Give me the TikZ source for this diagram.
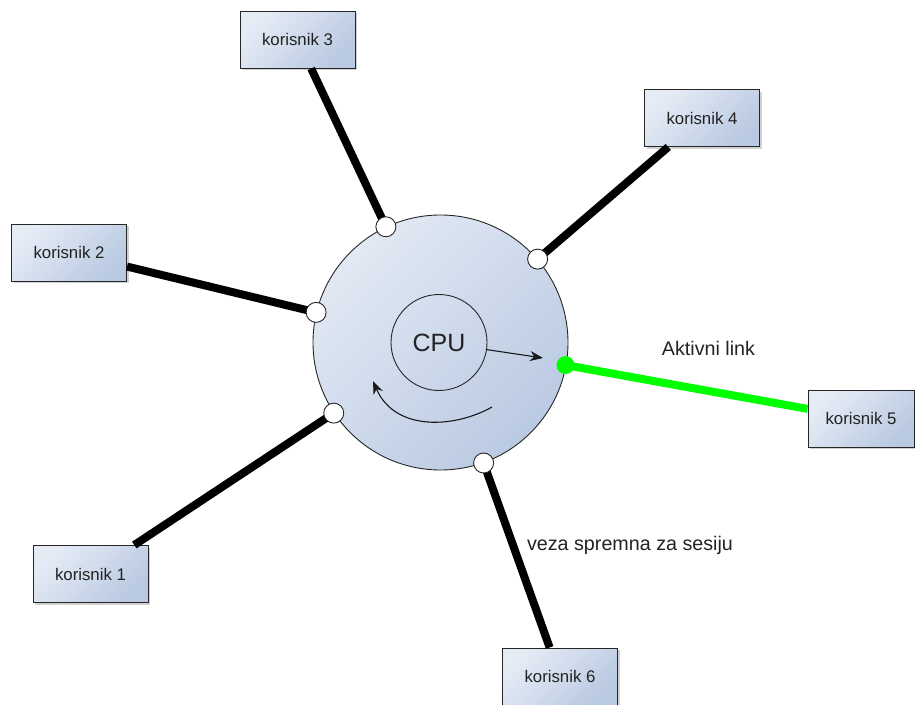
\documentclass[tikz,border=0pt]{standalone}
\usepackage{fontspec}
\setmainfont{Liberation Sans}
\usetikzlibrary{arrows.meta,shadows,calc}
\definecolor{boxL}{HTML}{E6ECF6}
\definecolor{boxR}{HTML}{B9C9E1}
\definecolor{cirL}{HTML}{E2E9F4}
\definecolor{cirR}{HTML}{BACAE2}
\definecolor{txt}{HTML}{222222}
\definecolor{linkgreen}{HTML}{00FF00}
\tikzset{
  userbox/.style={draw=black!85, line width=1pt, minimum width=115pt, minimum height=57pt,
    inner sep=0pt, left color=boxL, right color=boxR, shading angle=45,
    drop shadow={shadow xshift=2pt, shadow yshift=-2pt, opacity=0.3, fill=black!60},
    font=\fontsize{16.8}{20}\selectfont, text=txt},
  link/.style={line width=8pt, black},
  activelink/.style={line width=8pt, linkgreen},
  port/.style={circle, draw=black!85, fill=white, line width=0.9pt, minimum size=20pt, inner sep=0pt},
  activeport/.style={circle, fill=linkgreen, minimum size=18pt, inner sep=0pt},
  label/.style={font=\fontsize{19.7}{23}\selectfont, text=txt},
  thinarrow/.style={line width=1.1pt, black!90, -{Stealth[length=13pt,width=10pt]}}
}
\begin{document}
\begin{tikzpicture}[x=1pt,y=-1pt]
\useasboundingbox (0,0) rectangle (915,704);
% users
\node[userbox] (k3) at (297.5,39.5) {korisnik 3};
\node[userbox] (k4) at (702,118) {korisnik 4};
\node[userbox] (k2) at (69,252.5) {korisnik 2};
\node[userbox] (k1) at (90.5,574) {korisnik 1};
\node[userbox, minimum width=106pt] (k5) at (861,418.5) {korisnik 5};
\node[userbox] (k6) at (560,676.5) {korisnik 6};
% center
\coordinate (O) at (440.5,342.5);
\coordinate (p3) at ($(O)!128pt!(k3)$);
\coordinate (p4) at ($(O)!128pt!(k4)$);
\coordinate (p2) at ($(O)!128pt!(k2)$);
\coordinate (p1) at ($(O)!128pt!(k1)$);
\coordinate (p5) at ($(O)!127pt!(k5)$);
\coordinate (p6) at ($(O)!128pt!(k6)$);
% links
\draw[link] (p3) -- (k3);
\draw[link] (p4) -- (k4);
\draw[link] (p2) -- (k2);
\draw[link] (p1) -- (k1);
\draw[link] (p6) -- (k6);
\draw[activelink] (p5) -- (k5);
% big circle
\node[circle, draw=black!85, line width=0.9pt, minimum size=255pt, inner sep=0pt,
  left color=cirL, right color=cirR, shading angle=45] (ring) at (O) {};
\node[circle, draw=black!85, line width=0.9pt, minimum size=96pt, inner sep=0pt,
  font=\fontsize{25}{28}\selectfont, text=txt] (cpu) at (439,342.5) {CPU};
% ports
\node[port] (q3) at (p3) {};
\node[port] (q4) at (p4) {};
\node[port] (q2) at (p2) {};
\node[port] (q1) at (p1) {};
\node[port] (q6) at (p6) {};
\node[activeport] (q5) at (p5) {};
% arrows
\coordinate (a1) at (543,358);
\draw[thinarrow] (cpu) -- (a1);
\coordinate (c0) at (492,407);
\coordinate (c1) at (373,381);
\draw[thinarrow] (c0) .. controls (455,428) and (395,432) .. (c1);
% labels
\node[label] (l1) at (708.5,348) {Aktivni link};
\node[label] (l2) at (630,545) {veza spremna za sesiju};
\end{tikzpicture}
\end{document}
